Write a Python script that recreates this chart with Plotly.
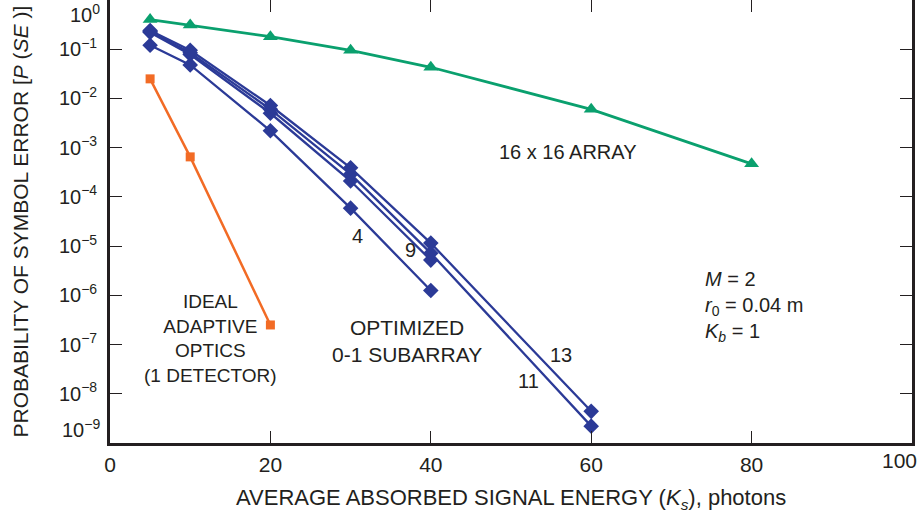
import plotly.graph_objects as go

# ---- data ----
x_array = [5, 10, 20, 30, 40, 60, 80]
p_array16 = [0.40, 0.31, 0.18, 0.095, 0.043, 0.006, 4.7e-4]

x_ideal = [5, 10, 20]
p_ideal = [0.025, 6.5e-4, 2.5e-7]

x_sub4 = [5, 10, 20, 30, 40]
p_sub4 = [0.12, 0.048, 2.2e-3, 5.9e-5, 1.25e-6]

x_sub9 = [5, 10, 20, 30, 40]
p_sub9 = [0.22, 0.078, 5.0e-3, 2.1e-4, 5.2e-6]

x_sub11 = [5, 10, 20, 30, 40, 60]
p_sub11 = [0.23, 0.085, 6.0e-3, 2.9e-4, 7.2e-6, 2.2e-9]

x_sub13 = [5, 10, 20, 30, 40, 60]
p_sub13 = [0.24, 0.095, 7.2e-3, 3.9e-4, 1.15e-5, 4.4e-9]

x_ticks = [0, 20, 40, 60, 80, 100]
x_ticktext = ["0", "20", "40", "60", "80", ""]
y_tick_exps = [-1, -2, -3, -4, -5, -6, -7, -8]

BLUE = "#2b3a97"
GREEN = "#0aa06e"
ORANGE = "#f26b25"
TXT = "#231f20"
FONT = "Liberation Sans, Arial, sans-serif"

fig = go.Figure()

fig.add_trace(go.Scatter(x=x_array, y=p_array16, mode="lines+markers",
                         line=dict(color=GREEN, width=2.8),
                         marker=dict(symbol="triangle-up", size=13, color=GREEN)))
fig.add_trace(go.Scatter(x=x_ideal, y=p_ideal, mode="lines+markers",
                         line=dict(color=ORANGE, width=2.5),
                         marker=dict(symbol="square", size=9, color=ORANGE)))
for xs, ys in [(x_sub4, p_sub4), (x_sub9, p_sub9), (x_sub11, p_sub11), (x_sub13, p_sub13)]:
    fig.add_trace(go.Scatter(x=xs, y=ys, mode="lines+markers",
                             line=dict(color=BLUE, width=2.3),
                             marker=dict(symbol="diamond", size=12, color=BLUE)))

def sup(e):
    return "10<sup>" + ("\u2212" + str(-e) if e < 0 else str(e)) + "</sup>"

fig.update_layout(
    width=920, height=525,
    margin=dict(l=110, r=8, t=0, b=82),
    plot_bgcolor="white", paper_bgcolor="white",
    showlegend=False,
    font=dict(family=FONT, color=TXT, size=20),
    xaxis=dict(range=[0, 100], tickvals=x_ticks, ticktext=x_ticktext,
               ticks="inside", ticklen=12, tickwidth=1.3, tickcolor=TXT,
               showline=True, linewidth=2.8, linecolor=TXT, mirror=False,
               showgrid=False, zeroline=False, tickfont=dict(size=21),
               ticklabelstandoff=1),
    xaxis2=dict(range=[0, 100], overlaying="x", side="top", anchor="y",
                tickvals=x_ticks, ticks="inside", ticklen=12, tickwidth=1.3,
                tickcolor=TXT, showticklabels=False, showline=True,
                linewidth=1.2, linecolor="#8a8a8a", showgrid=False, zeroline=False),
    yaxis=dict(type="log", range=[-9, 0],
               tickvals=[10 ** e for e in y_tick_exps],
               ticktext=[sup(e) for e in y_tick_exps],
               ticks="inside", ticklen=12, tickwidth=1.3, tickcolor=TXT,
               showline=True, linewidth=2.8, linecolor=TXT, mirror="ticks",
               showgrid=False, zeroline=False, tickfont=dict(size=20),
               ticklabelstandoff=6),
)

# invisible helper trace so the top axis is drawn
fig.add_trace(go.Scatter(x=[None], y=[None], xaxis="x2", showlegend=False, hoverinfo="skip"))

ann = []
# end tick labels (10^0, 10^-9, 100)
ann.append(dict(xref="paper", yref="y", x=0, y=0, text=sup(0), showarrow=False,
                xanchor="right", yanchor="top", xshift=-8, yshift=1, font=dict(size=20)))
ann.append(dict(xref="paper", yref="y", x=0, y=-9, text=sup(-9), showarrow=False,
                xanchor="right", yanchor="bottom", xshift=-8, yshift=0, font=dict(size=20)))
ann.append(dict(xref="x", yref="paper", x=100, y=0, text="100", showarrow=False,
                xanchor="right", yanchor="top", xshift=7, yshift=-4, font=dict(size=21)))
# axis titles
ann.append(dict(xref="paper", yref="paper", x=0, y=0.5, xshift=-90,
                text="PROBABILITY OF SYMBOL ERROR [<i>P</i> (<i>SE</i> )]",
                textangle=-90, showarrow=False, xanchor="center", yanchor="middle",
                font=dict(size=21)))
ann.append(dict(xref="paper", yref="paper", x=0.5, y=0, yshift=-56,
                text="AVERAGE ABSORBED SIGNAL ENERGY (<i>K<sub>s</sub></i>), photons",
                showarrow=False, xanchor="center", yanchor="middle", font=dict(size=22)))
# in-plot labels
def txt(x, y, t, align="center", xanchor="center", size=20):
    ann.append(dict(xref="x", yref="y", x=x, y=y, text=t, showarrow=False,
                    xanchor=xanchor, yanchor="middle", align=align, font=dict(size=size)))

txt(57, -3.09, "16 x 16 ARRAY")
txt(30.8, -4.8, "4")
txt(37.5, -5.08, "9")
txt(56.2, -7.22, "13")
txt(52.2, -7.74, "11")
txt(12.5, -6.87, "IDEAL<br>ADAPTIVE<br>OPTICS<br>(1 DETECTOR)", size=19)
txt(37.0, -6.92, "OPTIMIZED<br>0-1 SUBARRAY", size=21)
txt(74.0, -6.22, "<i>M</i> = 2<br><i>r</i><sub>0</sub> = 0.04 m<br><i>K<sub>b</sub></i> = 1",
    align="left", xanchor="left")

fig.update_layout(annotations=ann)

fig.write_html("out.html", config={"displayModeBar": False},
               post_script="document.body.style.margin='0';")
